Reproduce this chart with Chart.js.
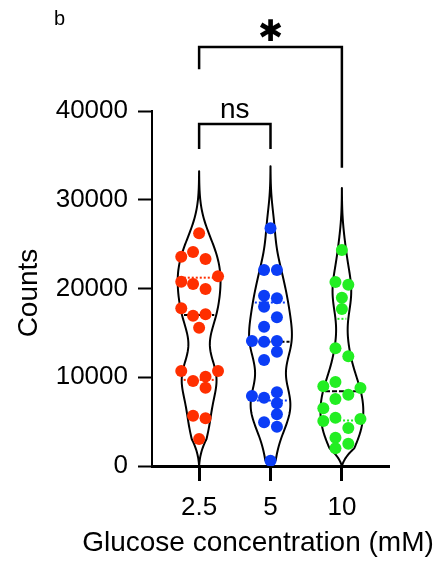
<!DOCTYPE html>
<html>
<head>
<meta charset="utf-8">
<script src="https://cdn.jsdelivr.net/npm/chart.js@4.4.1/dist/chart.umd.min.js"></script>
<style>
  body { margin: 0; background: #fff; }
  canvas { display: block; }
</style>
</head>
<body>
<canvas id="mycanvas" width="443" height="564"></canvas>
<script>
// categories and ticks
var categories = ['2.5', '5', '10'];
var yTicks = [0, 10000, 20000, 30000, 40000];
var colors = ['#ff2f00', '#0b3df6', '#22ee22'];
var xTitle = 'Glucose concentration (mM)';
var yTitle = 'Counts';

// counts, with the horizontal spread of each dot (category units)
var counts25 = [26220, 23590, 24110, 23320, 21370, 20770, 20510, 19940, 17770, 16940,
                17090, 15590, 10700, 10700, 9580, 10070, 8830, 5670, 5370, 3040];
var spread25 = [0, -0.25, -0.085, 0.09, 0.265, -0.25, -0.085, 0.09, -0.25, -0.085,
                0.09, 0, -0.25, 0.265, -0.085, 0.09, 0.09, -0.085, 0.09, 0];

var counts5 = [26780, 22080, 22080, 19190, 18890, 17950, 16750, 15700, 14080, 14010, 14080,
               12880, 11940, 7890, 7700, 8300, 7060, 5820, 4920, 4430, 600];
var spread5 = [0, -0.09, 0.09, -0.09, 0.09, -0.09, 0.09, -0.09, -0.26, -0.09, 0.09,
               0.09, -0.09, -0.26, -0.09, 0.09, 0.09, 0.09, -0.09, 0.09, 0];

var counts10 = [24340, 20730, 20430, 18970, 17690, 13260, 12360, 8980, 9460, 8790,
                7550, 8040, 6500, 5070, 5440, 5300, 4280, 3190, 2510, 1990];
var spread10 = [0, -0.09, 0.09, 0, 0, -0.09, 0.09, -0.26, -0.09, 0.26,
                -0.09, 0.09, -0.26, -0.26, -0.09, 0.26, 0.09, -0.09, 0.09, -0.09];

// significance brackets (data units)
var brackets = [
    { from: 1, to: 3, top: 47200, leftEnd: 44700, rightEnd: 33600, text: '\u2731' },
    { from: 1, to: 2, top: 38540, leftEnd: 35720, rightEnd: 35720, text: 'ns' }
];

var groups = [counts25, counts5, counts10];
var spreads = [spread25, spread5, spread10];

var bandwidth = 2330;
var halfWidth = 0.3;
var fontFamily = '"Liberation Sans", Arial, sans-serif';

function density(vals, y) {
    var s = 0;
    for (var i = 0; i < vals.length; i++) {
        var z = (y - vals[i]) / bandwidth;
        s += Math.exp(-0.5 * z * z);
    }
    return s;
}

function quantile(vals, p) {
    var v = vals.slice().sort(function (a, b) { return a - b; });
    var pos = p * (v.length + 1) - 1;
    var lo = Math.floor(pos);
    var f = pos - lo;
    if (lo < 0) return v[0];
    if (lo >= v.length - 1) return v[v.length - 1];
    return v[lo] + f * (v[lo + 1] - v[lo]);
}

function violinShape(vals, yMin) {
    var mn = Math.min.apply(null, vals);
    var mx = Math.max.apply(null, vals);
    var lo = Math.max(yMin, mn - 3 * bandwidth);
    var hi = mx + 3 * bandwidth;
    var clipped = mn - 3 * bandwidth < yMin;
    var raw = function (y) {
        var d = density(vals, y);
        if (clipped && y < mn) d *= (y - lo) / (mn - lo);
        return d;
    };
    var pts = [];
    var dmax = 0;
    var n = 240;
    for (var i = 0; i <= n; i++) {
        var y = lo + (hi - lo) * i / n;
        var d = raw(y);
        pts.push({ y: y, d: d });
        if (d > dmax) dmax = d;
    }
    pts.forEach(function (p) { p.w = halfWidth * p.d / dmax; });
    return { pts: pts, widthAt: function (y) { return halfWidth * raw(y) / dmax; } };
}

var violinPlugin = {
    id: 'violins',
    beforeDatasetsDraw: function (chart) {
        var ctx = chart.ctx;
        var xs = chart.scales.x, ys = chart.scales.y;
        groups.forEach(function (vals, gi) {
            var c = gi + 1;
            var shape = violinShape(vals, ys.min);
            ctx.save();
            ctx.lineWidth = 2;
            ctx.strokeStyle = '#000';
            ctx.lineJoin = 'round';
            ctx.beginPath();
            shape.pts.forEach(function (p, i) {
                var px = xs.getPixelForValue(c + p.w), py = ys.getPixelForValue(p.y);
                if (i === 0) ctx.moveTo(px, py); else ctx.lineTo(px, py);
            });
            for (var i = shape.pts.length - 1; i >= 0; i--) {
                var p = shape.pts[i];
                ctx.lineTo(xs.getPixelForValue(c - p.w), ys.getPixelForValue(p.y));
            }
            ctx.closePath();
            ctx.stroke();

            // quartiles and median
            var lines = [
                { p: 0.25, color: colors[gi], dash: [2, 2] },
                { p: 0.75, color: colors[gi], dash: [2, 2] },
                { p: 0.5, color: '#000', dash: [5, 2] }
            ];
            lines.forEach(function (l) {
                var q = quantile(vals, l.p);
                var w = shape.widthAt(q);
                var py = ys.getPixelForValue(q);
                ctx.beginPath();
                ctx.setLineDash(l.dash);
                ctx.strokeStyle = l.color;
                ctx.moveTo(xs.getPixelForValue(c - w) + 2, py);
                ctx.lineTo(xs.getPixelForValue(c + w) - 2, py);
                ctx.stroke();
            });
            ctx.restore();
        });
    },
    afterDraw: function (chart) {
        var ctx = chart.ctx;
        var xs = chart.scales.x, ys = chart.scales.y;
        ctx.save();
        ctx.strokeStyle = '#000';
        ctx.fillStyle = '#000';
        ctx.lineWidth = 2.5;
        brackets.forEach(function (b) {
            var x1 = xs.getPixelForValue(b.from), x2 = xs.getPixelForValue(b.to);
            var yt = ys.getPixelForValue(b.top);
            ctx.beginPath();
            ctx.moveTo(x1, ys.getPixelForValue(b.leftEnd));
            ctx.lineTo(x1, yt);
            ctx.lineTo(x2, yt);
            ctx.lineTo(x2, ys.getPixelForValue(b.rightEnd));
            ctx.stroke();
            ctx.textAlign = 'center';
            if (b.text === 'ns') {
                ctx.font = '28px ' + fontFamily;
                ctx.textBaseline = 'alphabetic';
                ctx.fillText(b.text, (x1 + x2) / 2, yt - 6);
            } else {
                ctx.font = 'bold 30px "DejaVu Sans", sans-serif';
                ctx.textBaseline = 'middle';
                ctx.fillText(b.text, (x1 + x2) / 2, yt - 14);
            }
        });

        // axis titles (x title is wider than the plot area, so both drawn here)
        ctx.font = '28px ' + fontFamily;
        ctx.textAlign = 'center';
        ctx.textBaseline = 'middle';
        ctx.fillText(xTitle, 258, 543);
        ctx.save();
        ctx.translate(29, 293);
        ctx.rotate(-Math.PI / 2);
        ctx.fillText(yTitle, 0, 0);
        ctx.restore();

        ctx.font = '20px ' + fontFamily;
        ctx.textAlign = 'left';
        ctx.textBaseline = 'alphabetic';
        ctx.fillText('b', 54, 25);
        ctx.restore();
    }
};

function makeData(vals, spread, gi) {
    return vals.map(function (v, i) { return { x: gi + 1 + spread[i], y: v }; });
}

var tickFont = { family: fontFamily, size: 26 };

var ctx = document.getElementById('mycanvas');
var chart = new Chart(ctx, {
    type: 'scatter',
    data: {
        datasets: groups.map(function (vals, gi) {
            return {
                label: categories[gi],
                data: makeData(vals, spreads[gi], gi),
                backgroundColor: colors[gi],
                borderWidth: 0,
                pointRadius: 6,
                pointHoverRadius: 6
            };
        })
    },
    options: {
        responsive: false,
        animation: false,
        devicePixelRatio: 1,
        layout: { padding: { top: 111, right: 54, left: 8, bottom: 4 } },
        plugins: { legend: { display: false }, tooltip: { enabled: false } },
        scales: {
            x: {
                type: 'linear',
                min: 0.34,
                max: 3.66,
                afterBuildTicks: function (s) {
                    s.ticks = categories.map(function (c, i) { return { value: i + 1 }; });
                },
                afterFit: function (s) { s.height = 94; },
                ticks: {
                    color: '#000',
                    font: tickFont,
                    padding: 11,
                    callback: function (v) { return categories[v - 1]; }
                },
                grid: { drawOnChartArea: false, tickLength: 15, tickWidth: 3, tickColor: '#000' },
                border: { color: '#000', width: 3 }
            },
            y: {
                min: 0,
                max: 40000,
                afterBuildTicks: function (s) {
                    s.ticks = yTicks.map(function (v) { return { value: v }; });
                },
                afterFit: function (s) { s.width = 144; },
                ticks: {
                    color: '#000',
                    font: tickFont,
                    padding: 10,
                    callback: function (v) { return String(v); }
                },
                grid: { drawOnChartArea: false, tickLength: 14, tickWidth: 2, tickColor: '#000' },
                border: { color: '#000', width: 2 }
            }
        }
    },
    plugins: [violinPlugin]
});
</script>
</body>
</html>
